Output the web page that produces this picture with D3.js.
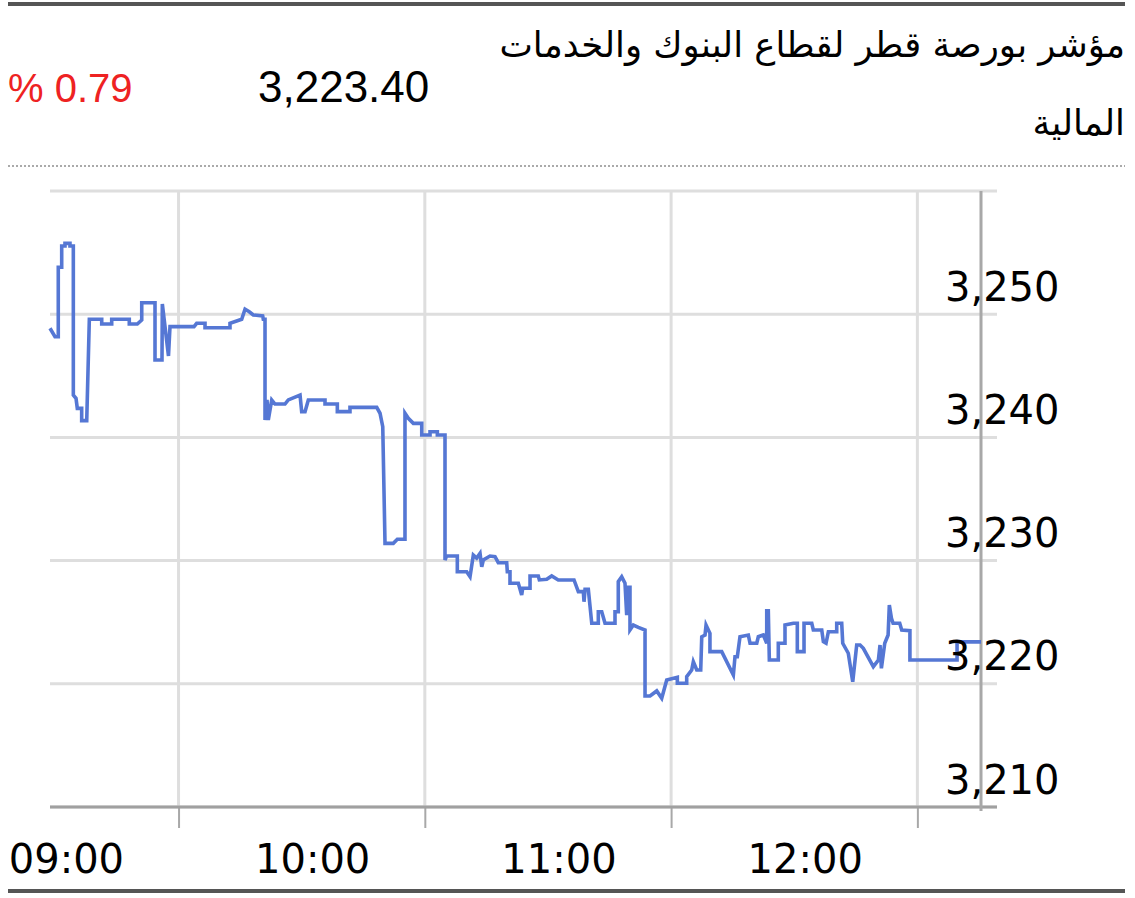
<!DOCTYPE html>
<html>
<head>
<meta charset="utf-8">
<script src="https://cdn.jsdelivr.net/npm/d3@7"></script>
<style>
  body { margin: 0; background: #fff; }
</style>
</head>
<body>
<div id="chart"></div>
<script>
// données
const titleLines = ["مؤشر بورصة قطر لقطاع البنوك والخدمات", "المالية"];
const lastValue = "3,223.40";
const changeLabel = "% 0.79";

const yTicks = [3210, 3220, 3230, 3240, 3250];
const yGrid = [3210, 3220, 3230, 3240, 3250, 3260];
const xLabels = ["09:00", "10:00", "11:00", "12:00"];
const xGrid = ["09:30", "10:30", "11:30", "12:30"];

const times = [
  "08:58:41","08:59:54","09:00:42","09:00:42","09:01:32","09:01:32","09:02:20","09:02:20","09:03:33","09:03:33",
  "09:04:22","09:04:22","09:05:01","09:05:20","09:06:24","09:06:24","09:07:38","09:08:16","09:11:17","09:11:17",
  "09:13:43","09:13:43","09:18:00","09:18:00","09:19:57","09:21:02","09:21:02","09:24:16","09:24:16","09:25:58",
  "09:26:03","09:27:33","09:27:55","09:33:46","09:34:25","09:36:27","09:36:27","09:42:32","09:42:32","09:45:23",
  "09:46:12","09:47:14","09:48:13","09:50:30","09:50:39","09:51:04","09:51:04","09:51:33","09:51:52","09:52:42",
  "09:53:30","09:55:56","09:56:44","09:59:36","10:00:00","10:00:49","10:01:37","10:05:41","10:05:41","10:08:41",
  "10:08:41","10:11:46","10:11:46","10:18:17","10:19:05","10:19:45","10:20:18","10:22:19","10:23:18","10:25:10",
  "10:25:10","10:25:59","10:27:12","10:29:15","10:29:15","10:31:16","10:31:16","10:33:03","10:33:03","10:34:55",
  "10:34:55","10:35:17","10:37:55","10:37:55","10:40:12","10:41:01","10:41:49","10:42:38","10:43:27","10:43:52",
  "10:44:15","10:45:53","10:47:06","10:47:54","10:49:57","10:50:06","10:50:45","10:50:45","10:52:47","10:53:36",
  "10:53:51","10:55:38","10:55:38","10:57:39","10:57:54","10:59:42","11:00:55","11:02:31","11:06:21","11:07:24",
  "11:08:37","11:08:47","11:09:02","11:09:50","11:10:40","11:12:16","11:12:16","11:13:06","11:13:54","11:16:20",
  "11:16:20","11:17:08","11:17:08","11:17:58","11:18:46","11:19:11","11:19:35","11:19:59","11:19:59","11:20:48",
  "11:22:01","11:23:39","11:23:39","11:24:52","11:26:30","11:27:43","11:28:56","11:31:31","11:31:31","11:33:48",
  "11:33:48","11:35:01","11:35:25","11:36:15","11:37:13","11:37:28","11:38:16","11:38:31","11:39:28","11:39:28",
  "11:42:20","11:45:10","11:45:34","11:46:08","11:46:47","11:48:49","11:49:14","11:50:52","11:51:15","11:52:28",
  "11:53:18","11:53:18","11:53:41","11:53:56","11:56:07","11:56:07","11:57:45","11:57:45","11:59:47","12:00:45",
  "12:00:45","12:02:23","12:02:23","12:04:16","12:04:39","12:06:42","12:07:06","12:07:45","12:08:19","12:10:21",
  "12:10:21","12:11:34","12:11:49","12:13:10","12:14:15","12:15:13","12:16:02","12:16:50","12:19:16","12:20:30",
  "12:20:54","12:21:14","12:22:03","12:22:52","12:23:10","12:23:41","12:24:05","12:25:42","12:26:11","12:28:11",
  "12:28:11","12:39:40","12:39:40","12:45:30"
];

const values = [
  3248.86,3248.17,3248.17,3253.81,3253.81,3255.54,3255.54,3255.75,3255.75,3255.54,
  3255.54,3243.44,3243.17,3242.36,3242.36,3241.36,3241.36,3249.59,3249.59,3249.20,
  3249.20,3249.59,3249.59,3249.20,3249.20,3249.53,3250.93,3250.93,3246.28,3246.28,
  3250.83,3246.61,3248.99,3248.99,3249.26,3249.26,3248.90,3248.90,3249.26,3249.59,
  3250.40,3250.20,3249.94,3249.86,3249.59,3249.59,3241.41,3243.04,3241.41,3243.04,
  3242.71,3242.71,3243.04,3243.44,3242.09,3242.09,3243.04,3243.04,3242.71,3242.71,
  3242.09,3242.09,3242.44,3242.44,3241.96,3240.87,3231.40,3231.40,3231.73,3231.73,
  3241.96,3241.55,3241.14,3241.14,3240.19,3240.19,3240.46,3240.46,3240.19,3240.19,
  3230.05,3230.37,3230.37,3229.10,3229.10,3228.69,3230.45,3230.21,3230.59,3229.50,
  3230.05,3230.37,3230.32,3229.83,3229.83,3229.10,3229.10,3228.16,3228.16,3227.21,
  3227.75,3227.75,3228.75,3228.75,3228.43,3228.48,3228.75,3228.43,3228.43,3227.48,
  3227.48,3226.66,3227.67,3227.67,3224.91,3224.91,3225.85,3225.85,3224.91,3224.91,
  3225.85,3225.85,3228.29,3228.69,3228.16,3225.58,3227.83,3227.83,3224.37,3224.77,
  3224.58,3224.37,3219.01,3219.01,3219.42,3218.82,3220.31,3220.53,3220.04,3220.04,
  3220.58,3221.12,3221.79,3221.12,3221.12,3223.82,3223.96,3224.77,3224.10,3222.61,
  3222.61,3220.71,3222.20,3222.20,3223.82,3223.96,3223.29,3223.29,3223.82,3223.96,
  3223.29,3225.93,3225.93,3221.93,3221.93,3223.29,3223.29,3224.77,3224.91,3224.91,
  3222.61,3222.61,3224.91,3224.91,3224.37,3224.37,3223.42,3223.29,3224.23,3224.23,
  3224.91,3224.91,3223.29,3222.48,3220.17,3223.15,3223.15,3222.88,3221.39,3221.93,
  3223.15,3221.26,3223.29,3223.96,3226.40,3225.32,3224.91,3224.91,3224.37,3224.31,
  3221.93,3221.93,3223.40,3223.40
];

//---------------------------------------------------------------------------------------

const width = 1135;
const height = 898;

// zone du graphique
const plotLeft = 50;
const plotRight = 981;
const plotTop = 191;
const plotBottom = 807;
const gridOverhang = 16;

const parseTime = d3.timeParse("%H:%M:%S");
const parseHour = d3.timeParse("%H:%M");

const data = times.map((t, i) => ({ date: parseTime(t), value: values[i] }));

const svg = d3.select("#chart")
  .append("svg")
  .attr("width", width)
  .attr("height", height)
  .style("display", "block");

//---------------------------------------------------------------------------------------

// en-tête

svg.append("rect")
  .attr("x", 8).attr("y", 2)
  .attr("width", 1117).attr("height", 4)
  .attr("fill", "#555");

svg.append("rect")
  .attr("x", 8).attr("y", 889)
  .attr("width", 1117).attr("height", 4)
  .attr("fill", "#555");

svg.append("line")
  .attr("x1", 8).attr("x2", 1125)
  .attr("y1", 166).attr("y2", 166)
  .attr("stroke", "#aaa")
  .attr("stroke-width", 2)
  .attr("stroke-dasharray", "2,2");

svg.selectAll(".title")
  .data(titleLines)
  .join("text")
  .attr("class", "title")
  .attr("x", 1125)
  .attr("y", (d, i) => 57 + i * 78)
  .attr("direction", "rtl")
  .attr("text-anchor", "start")
  .style("font-family", "'DejaVu Sans', sans-serif")
  .style("font-size", "35.5px")
  .attr("fill", "#000")
  .text(d => d);

svg.append("text")
  .attr("x", 258).attr("y", 102)
  .style("font-family", "'Liberation Sans', Arial, sans-serif")
  .style("font-size", "44px")
  .attr("fill", "#000")
  .text(lastValue);

svg.append("text")
  .attr("x", 8).attr("y", 102)
  .style("font-family", "'Liberation Sans', Arial, sans-serif")
  .style("font-size", "40px")
  .attr("fill", "#ee2222")
  .text(changeLabel);

//---------------------------------------------------------------------------------------

// échelles

const scaleX = d3.scaleTime()
  .domain([parseTime("08:58:41"), parseTime("12:45:30")])
  .range([plotLeft, plotRight]);

const scaleY = d3.scaleLinear()
  .domain([3210, 3260])
  .range([plotBottom, plotTop]);

//---------------------------------------------------------------------------------------

// grilles

svg.append("g")
  .selectAll("line")
  .data(yGrid)
  .join("line")
  .attr("x1", plotLeft)
  .attr("x2", plotRight + gridOverhang)
  .attr("y1", d => scaleY(d))
  .attr("y2", d => scaleY(d))
  .attr("stroke", "#dedede")
  .attr("stroke-width", 3);

svg.append("g")
  .selectAll("line")
  .data(xGrid)
  .join("line")
  .attr("x1", d => scaleX(parseHour(d)))
  .attr("x2", d => scaleX(parseHour(d)))
  .attr("y1", plotTop)
  .attr("y2", plotBottom)
  .attr("stroke", "#dedede")
  .attr("stroke-width", 3);

// axe des X
const xAxis = g => g
  .attr("transform", `translate(0, ${plotBottom})`)
  .call(d3.axisBottom(scaleX)
    .tickValues(xGrid.map(parseHour))
    .tickSize(21)
    .tickFormat(""))
  .call(g => g.select(".domain").remove())
  .call(g => g.selectAll(".tick line").attr("stroke", "#a8a8a8").attr("stroke-width", 2));

svg.append("g").call(xAxis);

svg.append("line")
  .attr("x1", plotLeft).attr("x2", plotRight + gridOverhang)
  .attr("y1", plotBottom).attr("y2", plotBottom)
  .attr("stroke", "#a0a0a0")
  .attr("stroke-width", 3);

svg.append("line")
  .attr("x1", plotRight).attr("x2", plotRight)
  .attr("y1", plotTop).attr("y2", plotBottom + 4)
  .attr("stroke", "#a8a8a8")
  .attr("stroke-width", 3);

//---------------------------------------------------------------------------------------

// courbe

const line = d3.line()
  .x(d => scaleX(d.date))
  .y(d => scaleY(d.value));

svg.append("path")
  .datum(data)
  .attr("fill", "none")
  .attr("stroke", "#5577d4")
  .attr("stroke-width", 3.6)
  .attr("stroke-linejoin", "miter")
  .attr("d", line);

//---------------------------------------------------------------------------------------

// étiquettes

const yAxis = g => g
  .attr("transform", `translate(${plotRight}, 0)`)
  .call(d3.axisRight(scaleY)
    .tickValues(yTicks)
    .tickSize(0)
    .tickFormat(d3.format(",")))
  .call(g => g.select(".domain").remove())
  .selectAll("text")
  .attr("x", -36)
  .attr("dy", "-14px")
  .attr("text-anchor", "start")
  .style("font-family", "'DejaVu Sans', Verdana, sans-serif")
  .style("font-size", "40px")
  .attr("fill", "#000");

svg.append("g").call(yAxis);

svg.append("g")
  .selectAll("text")
  .data(xLabels)
  .join("text")
  .attr("x", d => scaleX(parseHour(d)) + 11)
  .attr("y", 873)
  .attr("text-anchor", "middle")
  .style("font-family", "'DejaVu Sans', Verdana, sans-serif")
  .style("font-size", "40px")
  .attr("fill", "#000")
  .text(d => d);
</script>
</body>
</html>
